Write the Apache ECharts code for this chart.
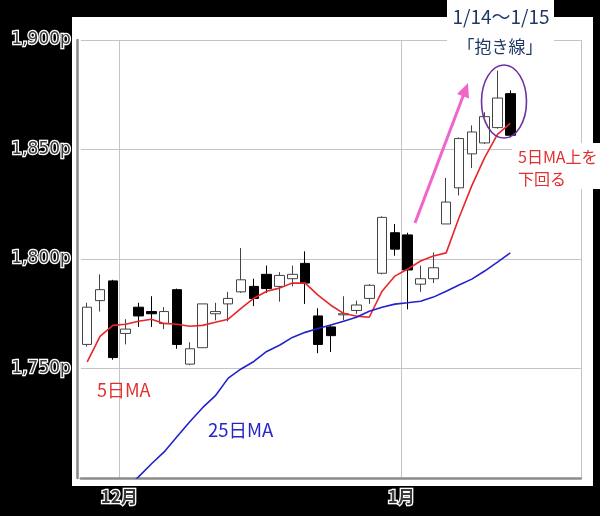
<!DOCTYPE html>
<html><head><meta charset="utf-8">
<script src="https://cdn.jsdelivr.net/npm/echarts@6/dist/echarts.min.js"></script>
<style>html,body{margin:0;padding:0;background:#000}#c{width:600px;height:516px}</style>
</head><body><div id="c"></div>
<script>
// trading days (categories)
const dates = ['11/26','11/27','11/30','12/1','12/2','12/3','12/4','12/7','12/8','12/9','12/10','12/11','12/14','12/15','12/16','12/17','12/18','12/21','12/22','12/23','12/24','12/25','12/28','12/29','12/30','1/4','1/5','1/6','1/7','1/8','1/12','1/13','1/14','1/15','1/18','1/19','1/20','1/21','1/22'];
// month tick labels
const monthTickDates = ['12/1','1/4'];
const monthTickLabels = ['12月','1月'];
// OHLC
const openP  = [1761,1781,1790,1766,1778,1776,1770.5,1786,1752,1759.5,1775,1779.5,1785,1787.5,1793,1787.5,1791,1798,1774,1769,1774.5,1776.5,1782,1793.5,1812,1811,1788.5,1791,1816,1832.5,1848,1853,1860,1875.5];
const closeP = [1778,1786,1755,1768,1774,1775,1776,1761,1759,1779.5,1776,1782,1790.5,1782,1786.5,1792.5,1793,1789,1761,1765,1775,1779,1788,1819,1804.5,1795,1791,1796,1826,1855,1858,1865,1873.5,1856.5];
const lowP   = [1760,1776,1754,1761,1769,1769,1768,1759,1751.5,1759.5,1772,1771.5,1784.5,1778.5,1784.5,1780.5,1787.5,1779.5,1757,1757.5,1772,1775,1779.5,1793,1801.5,1777,1785,1789,1816,1829,1841.5,1852.5,1859.5,1855.5];
const highP  = [1780,1793,1790.5,1772.5,1780,1783,1778,1786.5,1762,1779.5,1780,1785,1805,1791,1797,1794,1797,1803.5,1777.5,1770,1783,1781,1788.5,1819.5,1816,1812,1797,1803,1837,1855.5,1861,1867,1886,1877];
// moving averages
const ma5  = [1753,1764.7,1769.7,1770.2,1771.6,1772.5,1770.6,1770.2,1769.3,1769.7,1771.1,1772.5,1777.5,1782.1,1785.3,1786.7,1789,1789,1783.5,1778.9,1775.2,1773.9,1773.4,1785.3,1792.2,1795.4,1799.1,1801.4,1802.8,1818.8,1833.5,1846.3,1856.9,1861.9];
const ma25 = [null,null,null,1695,1700.5,1706.4,1711.9,1718.8,1725.7,1732.1,1737.6,1745.6,1749.8,1753.2,1757.8,1760.6,1764.2,1766.5,1768.3,1769.9,1771.6,1773.4,1776.1,1778,1779.4,1780,1780.7,1782.6,1785.3,1788.1,1790.8,1794.5,1798.6,1802.8];
// y ticks
const yMin = 1700, yMax = 1900, yStep = 50;

const ohlc = openP.map((o, i) => [o, closeP[i], lowP[i], highP[i]]);
const tickIdx = monthTickDates.map(d => dates.indexOf(d));

const chart = echarts.init(document.getElementById('c'), null, {renderer: 'canvas'});
const labelStyle = {color: '#3a3a3a', textBorderColor: '#fff', textBorderWidth: 2.5, fontFamily: 'DejaVu Sans', fontSize: 17};
const cjk = '"Noto Sans CJK JP"';
chart.setOption({
  backgroundColor: '#000',
  animation: false,
  grid: {left: 80.8, right: 19.2, top: 40, bottom: 38},
  xAxis: {
    type: 'category', data: dates, boundaryGap: true,
    axisLine: {lineStyle: {color: '#8a8a8a', width: 2.5}},
    axisTick: {show: false},
    axisLabel: Object.assign({
      interval: (i) => tickIdx.indexOf(i) >= 0,
      formatter: (v) => { const k = monthTickDates.indexOf(v); return k >= 0 ? monthTickLabels[k] : ''; },
      margin: 10, padding: [0, 13, 0, 0]
    }, labelStyle, {fontFamily: cjk, fontSize: 17, fontWeight: 'bold'}),
    splitLine: {show: true, interval: (i) => tickIdx.indexOf(i) >= 0, lineStyle: {color: '#c4c4c4', width: 1}}
  },
  yAxis: {
    type: 'value', min: yMin, max: yMax, interval: yStep, offset: 4,
    axisLine: {show: true, lineStyle: {color: '#8a8a8a', width: 2.5}},
    axisTick: {show: false},
    axisLabel: Object.assign({
      margin: 6,
      formatter: (v) => v === yMin ? '' : v.toLocaleString('en-US') + 'p'
    }, labelStyle),
    splitLine: {lineStyle: {color: '#c4c4c4', width: 1}}
  },
  series: [
    {type: 'candlestick', data: ohlc, barWidth: 10,
     itemStyle: {color: '#fff', color0: '#000', borderColor: '#444', borderColor0: '#000', borderWidth: 1}},
    {type: 'line', data: ma5, symbol: 'none', lineStyle: {color: '#e8262a', width: 1.6}, z: 3},
    {type: 'line', data: ma25, symbol: 'none', lineStyle: {color: '#2323cc', width: 1.6}, z: 3}
  ],
  graphic: [
    {type: 'rect', z: -1, shape: {x: 72, y: 17, width: 521, height: 469}, style: {fill: '#fff'}},
    {type: 'rect', z: 5, shape: {x: 447, y: 0, width: 107, height: 60}, style: {fill: '#fff'}},
    {type: 'rect', z: 5, shape: {x: 512, y: 143, width: 88, height: 46}, style: {fill: '#fff'}},
    {type: 'text', z: 20, style: {text: '5日MA', x: 97, y: 390, fill: '#e0302f', font: '18px ' + cjk, textAlign: 'left', align: 'left', textVerticalAlign: 'middle', verticalAlign: 'middle'}},
    {type: 'text', z: 20, style: {text: '25日MA', x: 208, y: 430, fill: '#2626c4', font: '18.5px ' + cjk, textAlign: 'left', align: 'left', textVerticalAlign: 'middle', verticalAlign: 'middle'}},
    {type: 'text', z: 20, style: {text: '5日MA上を', x: 518, y: 157, fill: '#e0302f', font: '16px ' + cjk, textAlign: 'left', align: 'left', textVerticalAlign: 'middle', verticalAlign: 'middle'}},
    {type: 'text', z: 20, style: {text: '下回る', x: 518, y: 179, fill: '#e0302f', font: '16px ' + cjk, textAlign: 'left', align: 'left', textVerticalAlign: 'middle', verticalAlign: 'middle'}},
    {type: 'text', z: 20, style: {text: '1/14～1/15', x: 501, y: 17, fill: '#1f3864', font: '19px ' + cjk, textAlign: 'center', align: 'center', textVerticalAlign: 'middle', verticalAlign: 'middle'}},
    {type: 'text', z: 20, style: {text: '「抱き線」', x: 500, y: 47, fill: '#1f3864', font: '17px ' + cjk, textAlign: 'center', align: 'center', textVerticalAlign: 'middle', verticalAlign: 'middle'}},
    {type: 'ellipse', z: 20, shape: {cx: 504, cy: 101.5, rx: 22.5, ry: 36.5}, style: {fill: 'none', stroke: '#7030a0', lineWidth: 1.6}},
    {type: 'line', z: 20, shape: {x1: 415, y1: 223, x2: 463.5, y2: 95}, style: {stroke: '#f065c8', lineWidth: 3}},
    {type: 'polygon', z: 20, shape: {points: [[468, 83], [469, 98.5], [457, 94]]}, style: {fill: '#f065c8'}}
  ]
});
</script></body></html>
